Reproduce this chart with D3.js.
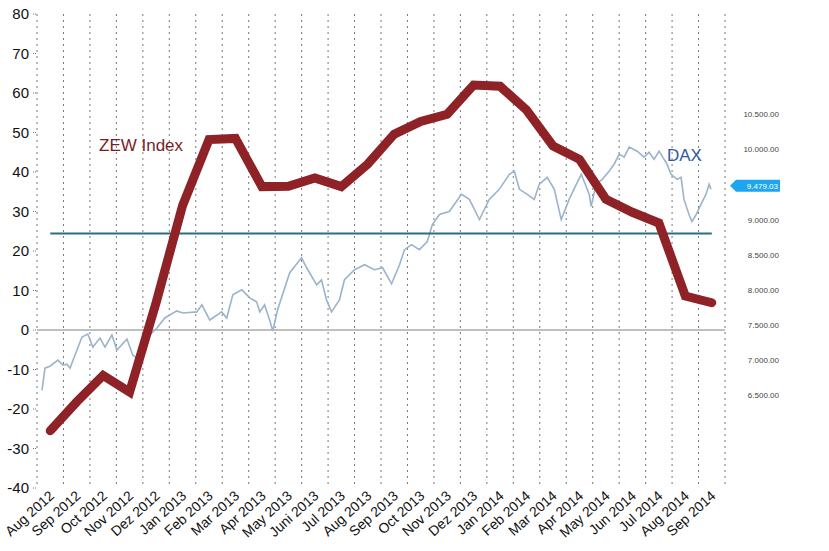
<!DOCTYPE html>
<html>
<head>
<meta charset="utf-8">
<script src="https://cdn.jsdelivr.net/npm/d3@7"></script>
<style>
  body { margin: 0; background: #fff; }
  text { font-family: "Liberation Sans", Arial, sans-serif; }
</style>
</head>
<body>
<div id="chart"></div>
<script>
const months = ["Aug 2012","Sep 2012","Oct 2012","Nov 2012","Dez 2012","Jan 2013","Feb 2013","Mar 2013",
  "Apr 2013","May 2013","Juni 2013","Jul 2013","Aug 2013","Sep 2013","Oct 2013","Nov 2013","Dez 2013",
  "Jan 2014","Feb 2014","Mar 2014","Apr 2014","May 2014","Jun 2014","Jul 2014","Aug 2014","Sep 2014"];
const zew = [-25.5,-18.2,-11.5,-15.7,6.9,31.5,48.2,48.5,36.3,36.4,38.5,36.3,42.0,49.6,52.8,54.6,62.0,
  61.7,55.7,46.6,43.2,33.1,29.8,27.1,8.6,6.9];
const leftTicks = [-40,-30,-20,-10,0,10,20,30,40,50,60,70,80];
const daxTicks = [6500,7000,7500,8000,8500,9000,10000,10500];
const daxLast = 9479.03;
const avgLine = 24.4;
// DAX: position in months since start of Aug 2012, index value
const daxMonth = [.19,.30,.49,.79,.98,1.13,1.25,1.36,1.70,1.92,2.11,2.38,2.57,2.83,3.02,3.40,3.62,3.89,
  4.08,4.53,4.83,5.28,5.51,6.04,6.23,6.53,6.98,7.17,7.40,7.74,8.04,8.30,8.42,8.60,8.79,8.91,9.09,9.55,
  10.0,10.19,10.57,10.75,10.94,11.13,11.43,11.62,12.0,12.38,12.75,13.06,13.4,13.7,13.89,
  14.15,14.45,14.75,14.94,15.21,15.58,15.77,16.04,16.34,16.72,17.09,17.47,17.85,18.04,18.23,18.53,18.79,
  18.98,19.28,19.55,19.81,20.11,20.38,20.57,20.87,20.94,21.13,21.36,21.62,21.81,22.0,22.19,22.38,22.68,
  22.94,23.13,23.32,23.51,23.81,23.96,24.19,24.34,24.45,24.64,24.75,24.91,25.09,25.28,25.40,25.47];
const daxValue = [6571,6886,6914,7000,6929,6943,6886,7000,7329,7371,7186,7314,7186,7357,7143,7300,7071,7000,
  7286,7457,7600,7700,7671,7686,7786,7571,7686,7600,7929,8000,7886,7829,7686,7786,7571,7414,7714,8243,
  8457,8314,8071,8143,7857,7686,7857,8143,8286,8357,8286,8314,8086,8357,8571,
  8643,8571,8686,8929,9071,9114,9214,9357,9286,9000,9286,9429,9643,9686,9429,9357,9286,
  9500,9600,9429,9000,9286,9500,9643,9357,9186,9500,9571,9686,9786,9929,9886,10029,9971,
  9886,9957,9857,9971,9786,9643,9571,9600,9286,9071,8971,9071,9214,9357,9500,9429];

const width = 829, height = 551;
const svg = d3.select("#chart").append("svg").attr("width", width).attr("height", height);

const x = d3.scaleLinear().domain([0, 26]).range([37, 725]);
const y = d3.scaleLinear().domain([-40, 80]).range([488, 14]);
const yDax = d3.scaleLinear().domain([7500, 10500]).range([325, 114]);

// vertical dotted gridlines
svg.selectAll(".grid").data(d3.range(0, 27)).enter().append("line")
  .attr("x1", d => x(d)).attr("x2", d => x(d))
  .attr("y1", y(80)).attr("y2", y(-40))
  .attr("stroke", "#777").attr("stroke-width", 1).attr("stroke-dasharray", "2,4");

// zero line
svg.append("line").attr("x1", x(0)).attr("x2", x(26)).attr("y1", y(0)).attr("y2", y(0))
  .attr("stroke", "#aaa").attr("stroke-width", 1.5);

// left axis labels
svg.selectAll(".yl").data(leftTicks).enter().append("text")
  .attr("x", 29).attr("y", d => y(d) + 5).attr("text-anchor", "end")
  .attr("font-size", 15).attr("fill", "#111").text(d => d);
svg.selectAll(".ytick").data(leftTicks).enter().append("line")
  .attr("x1", 33).attr("x2", 37).attr("y1", d => y(d)).attr("y2", d => y(d))
  .attr("stroke", "#777").attr("stroke-dasharray", "1,1");

// right DAX labels
const fmt = v => d3.format(",.2f")(v).replace(/,/g, ".");
svg.selectAll(".yr").data(daxTicks).enter().append("text")
  .attr("x", 779).attr("y", d => yDax(d) + 3).attr("text-anchor", "end")
  .attr("font-size", 8).attr("fill", "#444").text(fmt);

// bottom month labels
svg.selectAll(".xl").data(months).enter().append("text")
  .attr("transform", (d, i) => `translate(${x(i) + 18},${497}) rotate(-42)`)
  .attr("text-anchor", "end").attr("font-size", 14).attr("fill", "#111").text(d => d);

// DAX line
svg.append("path")
  .datum(daxMonth.map((m, i) => [m, daxValue[i]]))
  .attr("d", d3.line().x(d => x(d[0])).y(d => yDax(d[1])))
  .attr("fill", "none").attr("stroke", "#9bb4cc").attr("stroke-width", 1.6);

// average line
svg.append("line").attr("x1", x(0.5)).attr("x2", x(25.5)).attr("y1", y(avgLine)).attr("y2", y(avgLine))
  .attr("stroke", "#2a6f80").attr("stroke-width", 2);

// ZEW line
svg.append("path")
  .datum(zew)
  .attr("d", d3.line().x((d, i) => x(i + 0.5)).y(d => y(d)))
  .attr("fill", "none").attr("stroke", "#8e2226").attr("stroke-width", 9)
  .attr("stroke-linejoin", "miter").attr("stroke-linecap", "round");

svg.append("text").attr("x", 99).attr("y", 151).attr("font-size", 17).attr("fill", "#7a1e1e").text("ZEW Index");
svg.append("text").attr("x", 667).attr("y", 161).attr("font-size", 17).attr("fill", "#2e5aa0").text("DAX");

// last-value tag
const ty = yDax(daxLast);
svg.append("path")
  .attr("d", `M730,${ty} L736,${ty - 6} L780,${ty - 6} L780,${ty + 6} L736,${ty + 6} Z`)
  .attr("fill", "#1ea5f0");
svg.append("text").attr("x", 778).attr("y", ty + 3).attr("text-anchor", "end")
  .attr("font-size", 8).attr("fill", "#fff").text(fmt(daxLast));
</script>
</body>
</html>
